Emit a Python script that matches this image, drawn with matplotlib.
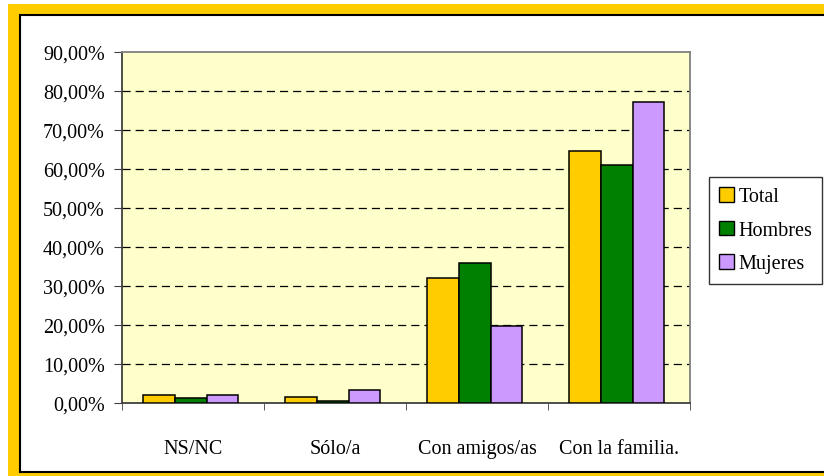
import numpy as np
import matplotlib
matplotlib.use('Agg')
import matplotlib.pyplot as plt
from matplotlib.patches import Rectangle, Patch
from matplotlib.ticker import FuncFormatter

plt.rcParams['font.family'] = ['Liberation Serif', 'DejaVu Serif']

categories = ['NS/NC', 'Sólo/a', 'Con amigos/as', 'Con la familia.']
total   = [2.0, 1.5, 32.1, 64.4]
hombres = [1.4, 0.5, 35.9, 61.0]
mujeres = [2.0, 3.4, 19.8, 77.1]
series_names = ['Total', 'Hombres', 'Mujeres']
colors = ['#FFCC00', '#008000', '#CC99FF']

fig = plt.figure(figsize=(8.24, 4.77), dpi=100)

# yellow frame with inner white panel
W, H = 824, 477
fig.patches.append(Rectangle((8 / W, 0), 1.0, 1 - 5 / H, transform=fig.transFigure,
                             facecolor='#FFCC00', edgecolor='none', zorder=-3))
fig.patches.append(Rectangle((20 / W, 4 / H), 1.0, 1 - 20 / H, transform=fig.transFigure,
                             facecolor='white', edgecolor='black', linewidth=1.5, zorder=-2))

ax = fig.add_axes([122 / W, 1 - 404 / H, (690 - 122) / W, (404 - 52.5) / H])
ax.set_facecolor('#FFFFCC')

x = np.arange(len(categories))
bw = 0.223
for i, (vals, c) in enumerate(zip([total, hombres, mujeres], colors)):
    ax.bar(x - 0.015 + (i - 1) * bw, vals, width=bw, color=c, edgecolor='black',
           linewidth=1.1, zorder=3)

ax.set_xlim(-0.5, len(categories) - 0.5)
ax.set_ylim(0, 90)
ax.set_yticks(np.arange(0, 91, 10))
ax.yaxis.set_major_formatter(FuncFormatter(lambda v, p: ('%.2f%%' % v).replace('.', ',')))
for yv in range(10, 90, 10):
    ax.axhline(yv, color='black', linestyle=(0, (6.5, 4)), linewidth=0.9, zorder=1)

ax.set_xticks(x)
ax.set_xticklabels(categories)
ax.set_xticks(np.arange(-0.5, len(categories), 1), minor=True)
ax.tick_params(axis='x', which='major', length=0, pad=26, labelsize=14.5)
ax.tick_params(axis='x', which='minor', length=5, direction='out', color='#404040')
ax.tick_params(axis='y', length=5.5, direction='out', pad=7, labelsize=14.5, color='#404040')

for s in ['top', 'right']:
    ax.spines[s].set_color('#808080')
    ax.spines[s].set_linewidth(1.3)
for s in ['left', 'bottom']:
    ax.spines[s].set_color('#404040')
    ax.spines[s].set_linewidth(1.3)

handles = [Patch(facecolor=c, edgecolor='black', linewidth=1.0) for c in colors]
leg = fig.legend(handles, series_names, loc='upper left',
                 bbox_to_anchor=(709 / W, 1 - 178 / H), fontsize=14.5,
                 frameon=True, fancybox=False, edgecolor='black',
                 handlelength=0.75, handleheight=0.75, handletextpad=0.2,
                 labelspacing=0.7, borderpad=0.5, borderaxespad=0)
leg.get_frame().set_linewidth(1.0)

fig.savefig('out.png', dpi=100)
